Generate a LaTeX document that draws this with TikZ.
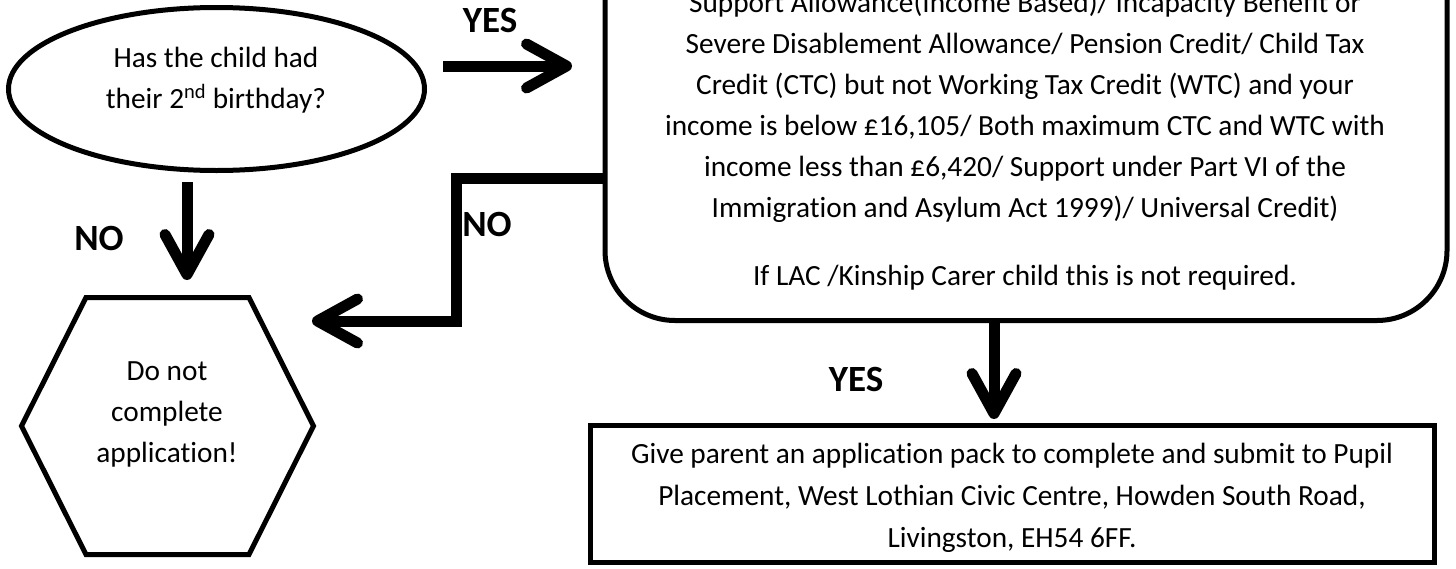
\documentclass[tikz,border=0pt]{standalone}
\usepackage{fontspec}
\setmainfont{Carlito}[Ligatures=CommonOff]
\usetikzlibrary{arrows.meta,shapes.geometric,calc}
\begin{document}
\begin{tikzpicture}[x=1pt,y=-1pt,
  shapeline/.style={draw, line width=5pt},
  body/.style={font=\fontsize{29.3}{41}\selectfont, align=center, inner sep=0pt},
  lbl/.style={font=\fontsize{37}{42}\selectfont\bfseries, inner sep=0pt},
  conn/.style={line width=11pt, -{Straight Barb[length=40pt, width=44pt, round]}},
]
\useasboundingbox (0,0) rectangle (1456,568);
\clip (0,0) rectangle (1456,568);

% question ellipse
\node[shapeline, ellipse, minimum width=416pt, minimum height=163pt, inner sep=0pt] (q) at (216.5,89) {};
\node[body, anchor=base] (qt) at (216,108) {Has the child had\\their 2\textsuperscript{nd} birthday?};

% eligibility box (top runs off the page)
\node[shapeline, rounded corners=70pt, minimum width=842pt, minimum height=403pt, anchor=south, inner sep=0pt] (elig) at (1026,323) {};
\node[body, anchor=base] (eligt) at (1025,285) {Support Allowance(Income Based)/ Incapacity Benefit or\\
Severe Disablement Allowance/ Pension Credit/ Child Tax\\
Credit (CTC) but not Working Tax Credit (WTC) and your\\
income is below £16,105/ Both maximum CTC and WTC with\\
income less than £6,420/ Support under Part VI of the\\
Immigration and Asylum Act 1999)/ Universal Credit)\\[27pt]
If LAC /Kinship Carer child this is not required.};

% application pack box
\node[shapeline, minimum width=844pt, minimum height=137pt, inner sep=0pt] (pack) at (1012.5,494) {};
\node[body, font=\fontsize{29.3}{42}\selectfont, anchor=base] (packt) at (1012,547) {Give parent an application pack to complete and submit to Pupil\\
Placement, West Lothian Civic Centre, Howden South Road,\\
Livingston, EH54 6FF.};

% stop hexagon
\draw[shapeline] (86,297.5) -- (249,297.5) -- (313.5,426) -- (249,554.5) -- (86,554.5) -- (21.5,426) -- cycle;
\node[inner sep=0pt, minimum width=292pt, minimum height=257pt] (hex) at (167.5,426) {};
\node[body, anchor=base] (hext) at (167,462) {Do not\\complete\\application!};

% connectors
\coordinate (y1s) at (443,66);
\coordinate (y1e) at (572,66);
\draw[conn] (y1s) -- (y1e);

\coordinate (n1s) at (187,182);
\coordinate (n1e) at (187,280);
\draw[conn] (n1s) -- (n1e);

\coordinate (lc) at (456,178);
\coordinate (lb) at (456,321);
\coordinate (le) at (312,321);
\draw[conn] (elig.west |- lc) -- (lc) -- (lb) -- (le);

\coordinate (d2e) at (994,419);
\draw[conn] (elig.south -| d2e) -- (d2e);

% labels
\node[lbl] (yes1) at (490,20) {YES};
\node[lbl] (no1) at (99,238) {NO};
\node[lbl] (no2) at (487,224) {NO};
\node[lbl] (yes2) at (856,379) {YES};
\end{tikzpicture}
\end{document}
